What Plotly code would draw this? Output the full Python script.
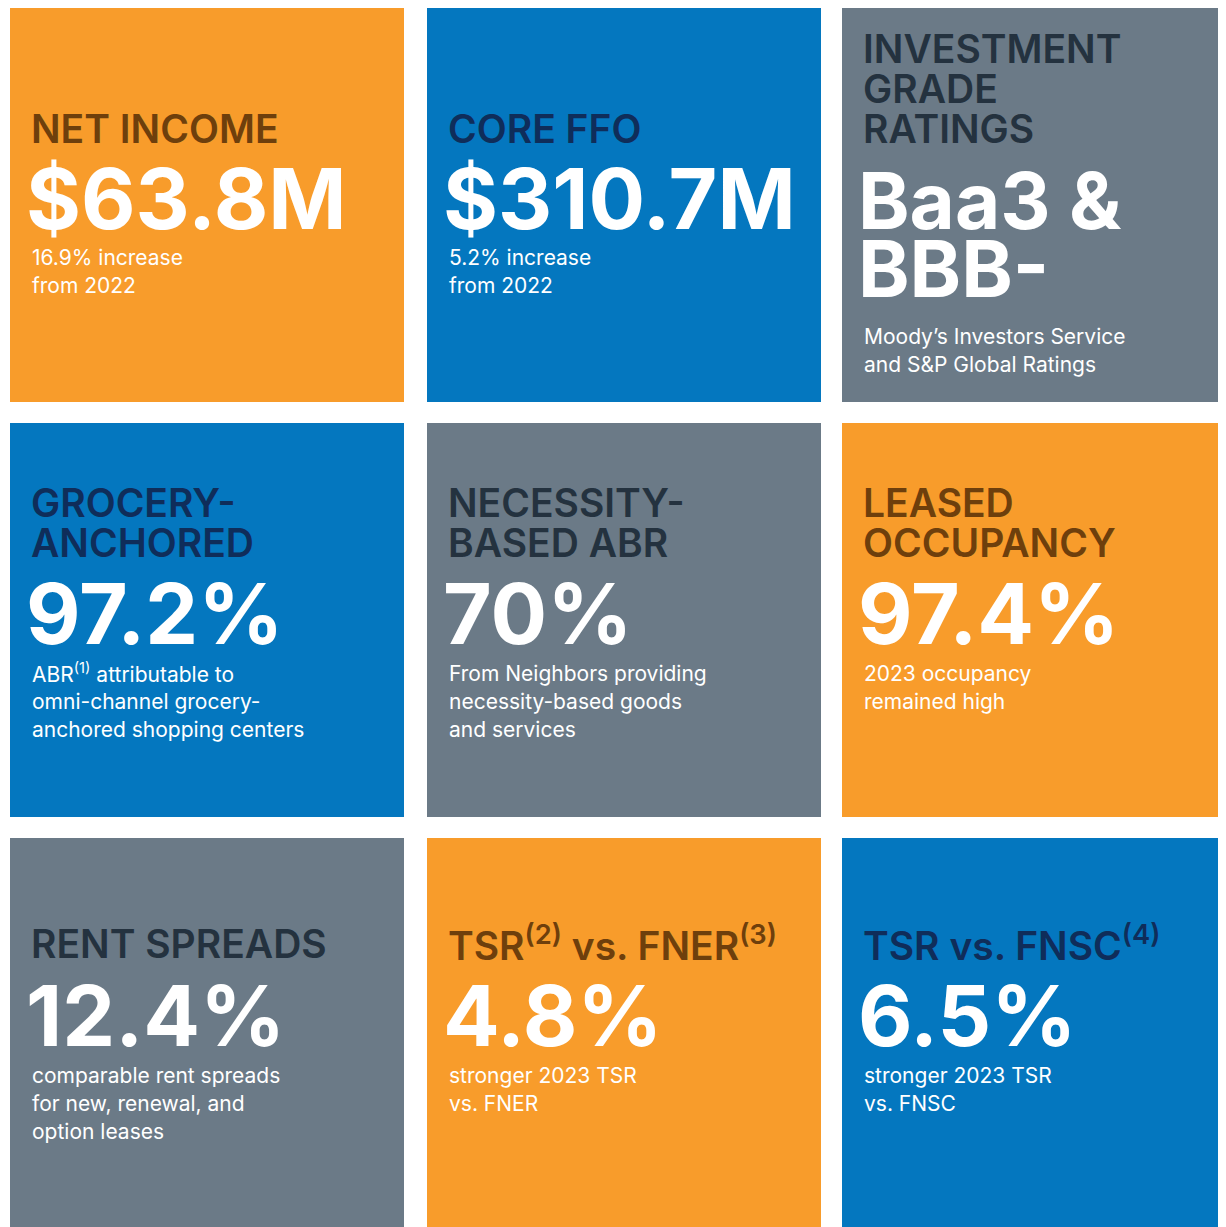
import plotly.graph_objects as go

# ---------------- data ----------------
titles = [
    ["NET INCOME"],
    ["CORE FFO"],
    ["INVESTMENT", "GRADE", "RATINGS"],
    ["GROCERY-", "ANCHORED"],
    ["NECESSITY-", "BASED ABR"],
    ["LEASED", "OCCUPANCY"],
    ["RENT SPREADS"],
    ["TSR<sup>(2)</sup> vs. FNER<sup>(3)</sup>"],
    ["TSR vs. FNSC<sup>(4)</sup>"],
]
values = [
    ["$63.8M"],
    ["$310.7M"],
    ["Baa3 &", "BBB-"],
    ["97.2%"],
    ["70%"],
    ["97.4%"],
    ["12.4%"],
    ["4.8%"],
    ["6.5%"],
]
notes = [
    ["16.9% increase", "from 2022"],
    ["5.2% increase", "from 2022"],
    ["Moody\u2019s Investors Service", "and S&P Global Ratings"],
    ["ABR<sup>(1)</sup> attributable to", "omni-channel grocery-", "anchored shopping centers"],
    ["From Neighbors providing", "necessity-based goods", "and services"],
    ["2023 occupancy", "remained high"],
    ["comparable rent spreads", "for new, renewal, and", "option leases"],
    ["stronger 2023 TSR", "vs. FNER"],
    ["stronger 2023 TSR", "vs. FNSC"],
]
themes = ["orange", "blue", "gray",
          "blue", "gray", "orange",
          "gray", "orange", "blue"]

# ---------------- styles ----------------
FILL = {"orange": "#F89C2B", "blue": "#0477BF", "gray": "#6B7A87"}
INK = {"orange": "#6E3F0C", "blue": "#0F2D5A", "gray": "#24323F"}
PAGE_W, PAGE_H = 1226, 1227
PAGE_OFFSET = 8          # default body margin of the html page
W_FIG, H_FIG = PAGE_W, PAGE_H
TILE = 394
COL_X = [10, 427, 842]
ROW_Y = [8, 423, 838]
# per-row offsets (from tile top) of: last title line, first value line, first note line
ROW_OFF = [(120, 190, 249), (119, 190, 250), (105, 177, 237)]
TITLE_STEP, NOTE_STEP, VALUE_STEP = 40, 28, 68
FONT = "Inter"

fig = go.Figure()
fig.add_trace(go.Scatter(x=[PAGE_OFFSET, PAGE_W], y=[PAGE_OFFSET, PAGE_H], mode="markers",
                         marker=dict(opacity=0), hoverinfo="skip", showlegend=False))

shapes, ann = [], []
for i, th in enumerate(themes):
    r, c = divmod(i, 3)
    x0, y0 = COL_X[c], ROW_Y[r]
    shapes.append(dict(type="rect", xref="x", yref="y", x0=x0, x1=x0 + TILE,
                       y0=y0, y1=y0 + TILE, fillcolor=FILL[th], line_width=0, layer="below"))
    t_off, v_off, n_off = ROW_OFF[r]
    tx = x0 + 19
    nt = len(titles[i])
    for k, line in enumerate(titles[i]):
        ann.append(dict(x=tx, y=y0 + t_off - (nt - 1 - k) * TITLE_STEP, text=line,
                        font=dict(family=FONT, size=39, color=INK[th], weight=600)))
    multi = len(values[i]) > 1
    vsize = 78 if multi else 84
    for k, line in enumerate(values[i]):
        ann.append(dict(x=tx - 5, y=y0 + v_off + (2 if multi else 0) + k * VALUE_STEP, text=line,
                        font=dict(family=FONT, size=vsize, color="white", weight=700)))
    nbase = y0 + n_off + (len(values[i]) - 1) * VALUE_STEP + (11 if multi else 0)
    for k, line in enumerate(notes[i]):
        ann.append(dict(x=tx + 1, y=nbase + k * NOTE_STEP, text=line,
                        font=dict(family=FONT, size=21, color="white", weight=400)))

for a in ann:
    a.update(xref="x", yref="y", xanchor="left", yanchor="middle", showarrow=False)

fig.update_layout(
    width=W_FIG, height=H_FIG, margin=dict(l=0, r=0, t=0, b=0),
    paper_bgcolor="white", plot_bgcolor="white",
    shapes=shapes, annotations=ann,
    xaxis=dict(range=[PAGE_OFFSET, PAGE_OFFSET + W_FIG], visible=False, fixedrange=True),
    yaxis=dict(range=[PAGE_OFFSET + H_FIG, PAGE_OFFSET], visible=False, fixedrange=True),
    showlegend=False,
)
fig.write_html("out.html")
